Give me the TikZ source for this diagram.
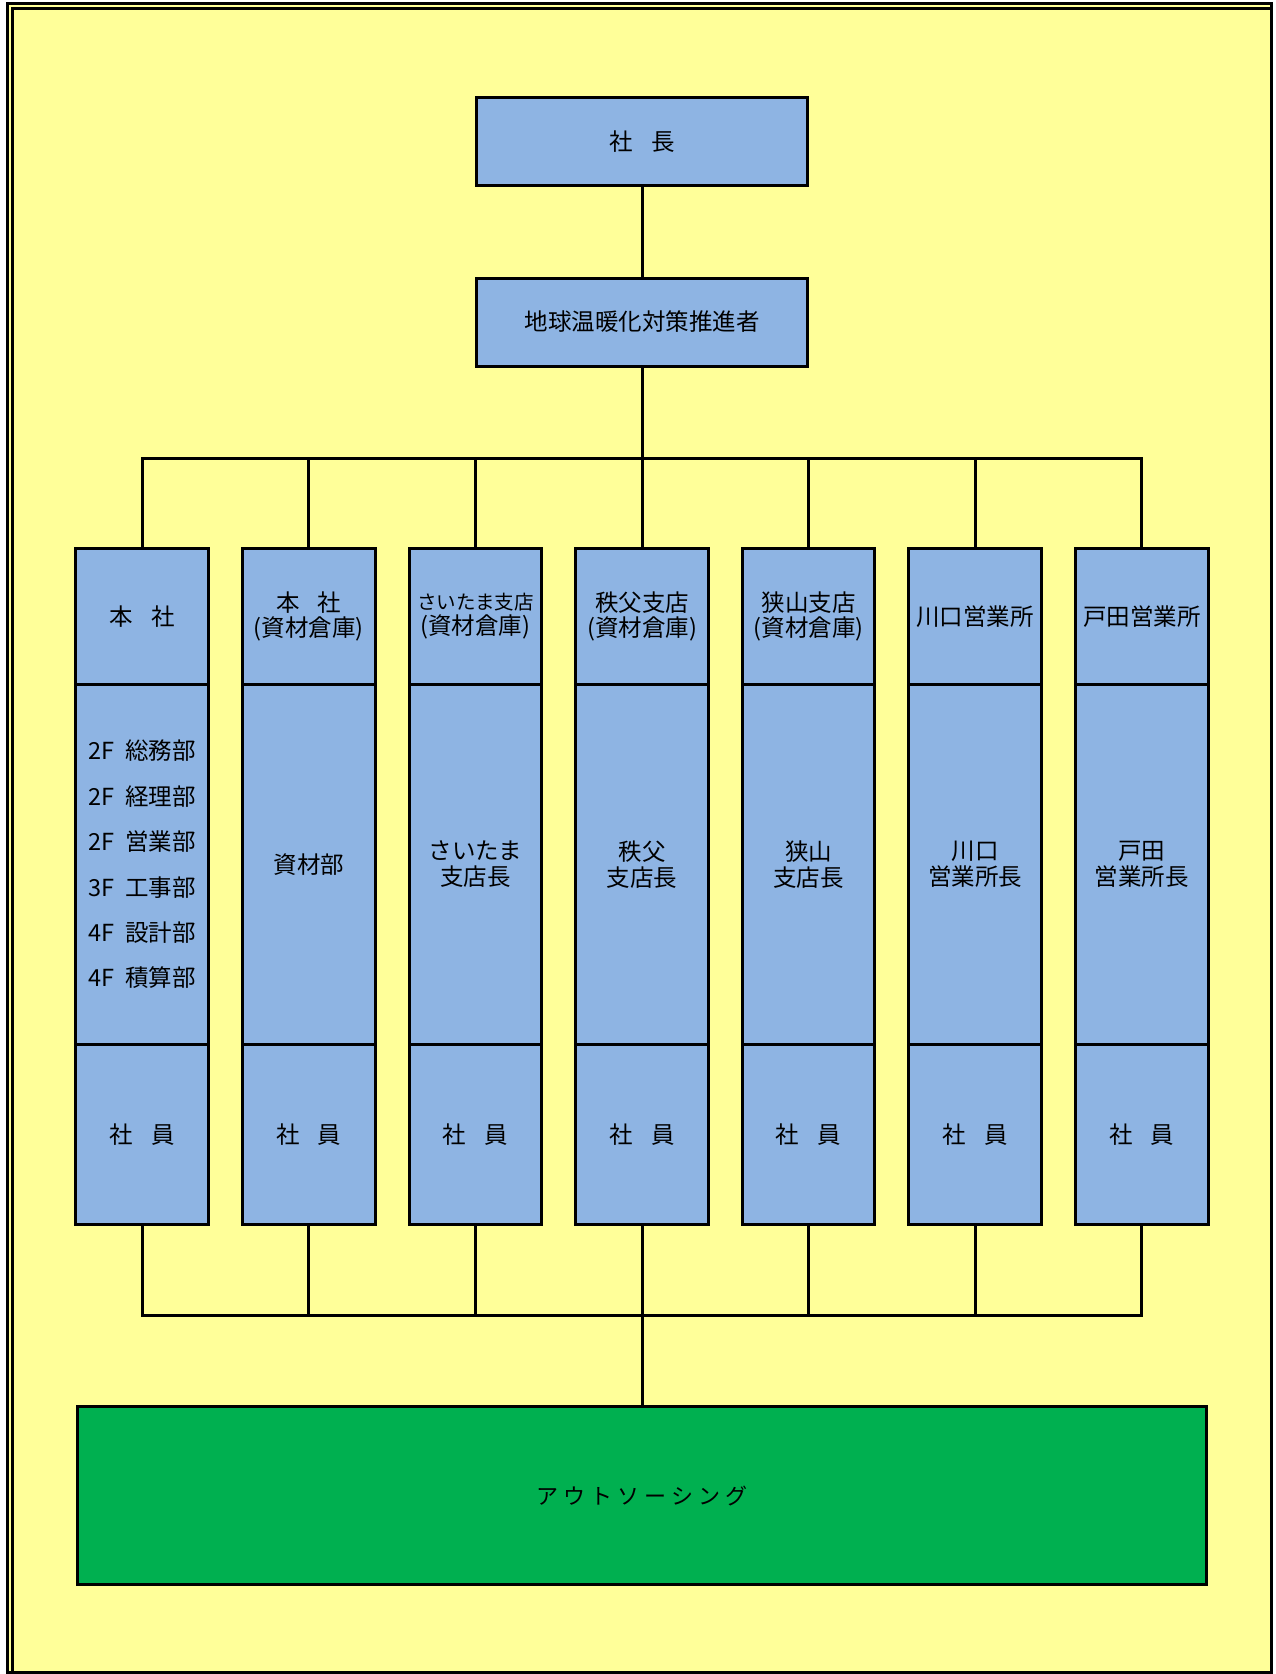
\documentclass[tikz,border=0pt]{standalone}
\usepackage{fontspec}
\usepackage{tikz}
\usetikzlibrary{positioning}
\newfontfamily\jpfont{Noto Sans CJK JP}
\definecolor{bgyellow}{HTML}{FFFF99}
\definecolor{boxblue}{HTML}{8EB4E3}
\definecolor{outgreen}{HTML}{00B050}
\newcommand{\jsp}{\hspace{0.78em}}
\newcommand{\flsp}{\hspace{0.45em}}

\begin{document}
\begin{tikzpicture}[
  x=1pt, y=-1pt,
  orgbox/.style={
    rectangle, draw=black, fill=boxblue, line width=3pt,
    inner sep=0pt, outer sep=0pt,
    minimum width=331pt, minimum height=88pt,
    align=center, font=\jpfont\fontsize{23.5}{25}\selectfont
  },
  colhead/.style={orgbox, minimum width=132.7pt, minimum height=136pt},
  coldept/.style={orgbox, minimum width=132.7pt, minimum height=359.8pt,
    font=\jpfont\fontsize{23.5}{26}\selectfont},
  colstaff/.style={orgbox, minimum width=132.7pt, minimum height=180pt},
  orgline/.style={line width=3pt, draw=black}
]
\useasboundingbox (0,0) rectangle (1276,1674);

% frame
\fill[bgyellow] (7.5,3.5) rectangle (1271.5,1672.5);
\draw[line width=3pt] (7.5,3.5) rectangle (1271.5,1672.5);
\draw[line width=3pt] (12.5,8.5) rectangle (1271.5,1672.5);

% TOP
\node[orgbox] (boss) at (642, 141.5) {社\jsp 長};
\node[orgbox] (promoter) at (642, 322) {地球温暖化対策推進者};

% COLUMNS
\node[colhead] (head1) at (142.2, 616.5) {本\jsp 社};
\node[colhead] (head2) at (308.8, 616.5) {本\jsp 社\\(資材倉庫)};
\node[colhead] (head3) at (475.4, 616.5)
  {{\fontsize{19.5}{25}\selectfont さいたま支店}\\(資材倉庫)};
\node[colhead] (head4) at (642, 616.5) {秩父支店\\(資材倉庫)};
\node[colhead] (head5) at (808.6, 616.5) {狭山支店\\(資材倉庫)};
\node[colhead] (head6) at (975.2, 616.5) {川口営業所};
\node[colhead] (head7) at (1141.8, 616.5) {戸田営業所};

\node[coldept, align=left, font=\jpfont\fontsize{23.5}{45.4}\selectfont,
  below=0pt of head1] (dept1)
  {2F\flsp 総務部\\2F\flsp 経理部\\2F\flsp 営業部\\3F\flsp 工事部\\4F\flsp 設計部\\4F\flsp 積算部};
\node[coldept, below=0pt of head2] (dept2) {資材部};
\node[coldept, below=0pt of head3] (dept3) {さいたま\\支店長};
\node[coldept, below=0pt of head4] (dept4) {秩父\\支店長};
\node[coldept, below=0pt of head5] (dept5) {狭山\\支店長};
\node[coldept, below=0pt of head6] (dept6) {川口\\営業所長};
\node[coldept, below=0pt of head7] (dept7) {戸田\\営業所長};

\node[colstaff, below=0pt of dept1] (staff1) {社\jsp 員};
\node[colstaff, below=0pt of dept2] (staff2) {社\jsp 員};
\node[colstaff, below=0pt of dept3] (staff3) {社\jsp 員};
\node[colstaff, below=0pt of dept4] (staff4) {社\jsp 員};
\node[colstaff, below=0pt of dept5] (staff5) {社\jsp 員};
\node[colstaff, below=0pt of dept6] (staff6) {社\jsp 員};
\node[colstaff, below=0pt of dept7] (staff7) {社\jsp 員};

% OUTSOURCING
\node[orgbox, fill=outgreen, minimum width=1129pt, minimum height=178pt,
  font=\jpfont\fontsize{22}{25}\selectfont]
  (outsource) at (642, 1495.5) {ア ウ ト ソ ー シ ン グ};

% connectors
\coordinate (busT) at (642, 458);
\coordinate (busB) at (642, 1315);
\draw[orgline] (boss) -- (promoter);
\draw[orgline] (promoter) -- (head4);
\draw[orgline] (head1.north) |- (busT) -| (head7.north);
\draw[orgline] (staff1.south) |- (busB) -| (staff7.south);
\draw[orgline] (busB) -- (outsource);
\foreach \i in {2,3,5,6} {
  \draw[orgline] (head\i.north) -- (head\i.north |- busT);
}
\foreach \i in {2,...,6} {
  \draw[orgline] (staff\i.south) -- (staff\i.south |- busB);
}

\end{tikzpicture}
\end{document}
